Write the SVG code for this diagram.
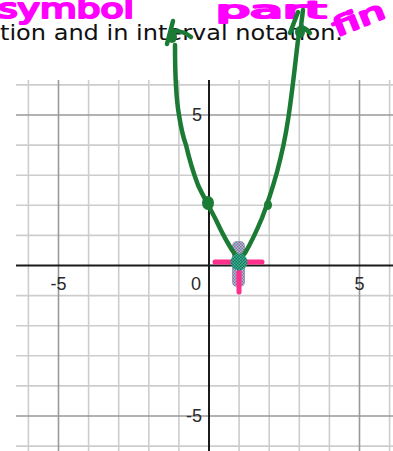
<svg xmlns="http://www.w3.org/2000/svg" width="393" height="451" viewBox="0 0 393 451">
<defs>
<style>
.minor{stroke:#cdcdcd;stroke-width:1.6;fill:none}
.major{stroke:#999999;stroke-width:1.6;fill:none}
.axis{stroke:#1a1a1a;stroke-width:2;fill:none}
.lbl{font-family:"Liberation Sans",Arial,sans-serif;font-size:18px;fill:#2a2a2a}
.ink{stroke:#1b7a34;stroke-width:4.5;fill:none;stroke-linecap:round;stroke-linejoin:round}
.hand{font-family:"DejaVu Sans",sans-serif;font-weight:normal;fill:#ff00ff;stroke:#ff00ff;stroke-width:2.2;stroke-linejoin:round}
</style>
<pattern id="chk" width="3" height="3" patternUnits="userSpaceOnUse">
<rect width="3" height="3" fill="#0f7a52"/>
<rect width="1.5" height="1.5" fill="#45b09e"/>
<rect x="1.5" y="1.5" width="1.5" height="1.5" fill="#45b09e"/>
</pattern>
<pattern id="chk2" width="3" height="3" patternUnits="userSpaceOnUse">
<rect width="3" height="3" fill="#6fd0d4"/>
<rect width="1.5" height="1.5" fill="#b04a90"/>
<rect x="1.5" y="1.5" width="1.5" height="1.5" fill="#b04a90"/>
</pattern>
</defs>
<rect width="393" height="451" fill="#ffffff"/>

<g id="heading">
<text x="0" y="40" font-family="'Century Gothic','DejaVu Sans',sans-serif" font-size="21" fill="#111" textLength="343" lengthAdjust="spacingAndGlyphs">tion and in interval notation.</text>
</g>

<g id="handwriting">
<text class="hand" x="-2" y="18" font-size="27" textLength="136" lengthAdjust="spacingAndGlyphs">symbol</text>
<text class="hand" x="216" y="18" font-size="23" textLength="110" lengthAdjust="spacingAndGlyphs">part</text>
<text class="hand" x="0" y="0" font-size="26" transform="translate(337,37) rotate(-22)" textLength="54" lengthAdjust="spacingAndGlyphs">fin</text>
</g>

<g id="grid">
<path class="minor" d="M28.4,80V451M88.6,80V451M118.7,80V451M148.8,80V451M178.9,80V451M239.1,80V451M269.2,80V451M299.3,80V451M329.4,80V451M389.6,80V451"/>
<path class="minor" d="M16,84.9H393M16,145.1H393M16,175.2H393M16,205.3H393M16,235.4H393M16,295.6H393M16,325.7H393M16,355.8H393M16,385.9H393M16,446.1H393"/>
<path class="major" d="M58.5,80V451M359.5,80V451M16,115H393M16,416H393"/>
<path class="axis" d="M209,80V451M16,265.5H393"/>
</g>

<g id="labels">
<text class="lbl" x="58.5" y="290" text-anchor="middle">-5</text>
<text class="lbl" x="196" y="290" text-anchor="middle">0</text>
<text class="lbl" x="359.5" y="290" text-anchor="middle">5</text>
<text class="lbl" x="202" y="121" text-anchor="end">5</text>
<text class="lbl" x="202" y="422" text-anchor="end">-5</text>
</g>

<g id="vertex-mark">
<rect x="232" y="241" width="13" height="46" rx="5" fill="url(#chk2)" opacity="0.9"/>
<path d="M215,262H262" stroke="#ff2d8c" stroke-width="5" stroke-linecap="round" fill="none"/>
<path d="M239,272V292" stroke="#ff2d8c" stroke-width="5" stroke-linecap="round" fill="none"/>
</g>

<g id="connectors">
<path class="ink" d="M175,45 C175,70 176,98 179,115 C181,128 183,137 186,145 C189,158 193,172 198,185 C203,196 210,208 216,220 C222,233 229,246 236,256 L239,260 L245,253 C251,243 257,230 262,218 C267,205 272,190 277,172 C281,157 285,140 288,120 C292,95 295,65 298,40 L300,30"/>
<path class="ink" d="M173,21 L167,44 M174,31 Q184,31 191,37"/>
<path class="ink" d="M298,12 L290,33 M303,10 L300,34 M301,27 Q307,29 310,33"/>
<ellipse cx="172" cy="37" rx="5" ry="6" fill="#1b7a34"/>
<ellipse cx="300" cy="32" rx="5" ry="6" fill="#1b7a34"/>
<ellipse cx="208" cy="203" rx="6" ry="7" fill="#1b7a34"/>
<ellipse cx="268" cy="205" rx="4" ry="5" fill="#1b7a34"/>
<circle cx="239" cy="262" r="8.5" fill="url(#chk)"/>
</g>
</svg>
